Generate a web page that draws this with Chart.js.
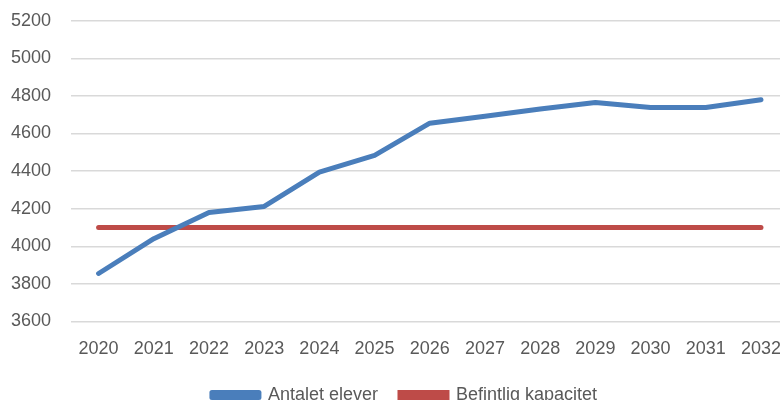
<!DOCTYPE html>
<html>
<head>
<meta charset="utf-8">
<script src="https://cdn.jsdelivr.net/npm/chart.js@4.4.0/dist/chart.umd.min.js"></script>
<style>
html,body{margin:0;padding:0;overflow:hidden;background:#fff;}
#wrap{position:absolute;left:0;top:-10px;width:798px;height:424px;}
</style>
</head>
<body>
<div id="wrap"><canvas id="c"></canvas></div>
<script>
const years = ['2020','2021','2022','2023','2024','2025','2026','2027','2028','2029','2030','2031','2032'];
const antaletElever = [3855, 4040, 4180, 4212, 4395, 4484, 4655, 4692, 4730, 4765, 4738, 4738, 4780];
const befintligKapacitet = [4100, 4100, 4100, 4100, 4100, 4100, 4100, 4100, 4100, 4100, 4100, 4100, 4100];
const seriesNames = ['Antalet elever', 'Befintlig kapacitet'];

const FONT = "'Liberation Sans', Arial, sans-serif";
new Chart(document.getElementById('c'), {
  type: 'line',
  data: {
    labels: years,
    datasets: [
      {label: seriesNames[0], data: antaletElever, borderColor: '#4A7EBB', backgroundColor: '#4A7EBB', borderWidth: 5, pointRadius: 0, tension: 0, borderCapStyle: 'round', borderJoinStyle: 'round'},
      {label: seriesNames[1], data: befintligKapacitet, borderColor: '#BE4B48', backgroundColor: '#BE4B48', borderWidth: 5, pointRadius: 0, tension: 0, borderCapStyle: 'round'}
    ]
  },
  options: {
    responsive: true,
    maintainAspectRatio: false,
    animation: false,
    layout: {padding: {left: 11, top: 0, right: 0, bottom: 0}},
    plugins: {
      tooltip: {enabled: false},
      legend: {
        position: 'bottom',
        labels: {boxWidth: 47, boxHeight: 5, padding: 22, color: '#595959', font: {family: FONT, size: 18}}
      }
    },
    scales: {
      x: {
        offset: true,
        grid: {display: false, drawTicks: false},
        border: {display: false},
        ticks: {color: '#595959', font: {family: FONT, size: 18}, padding: 17, maxRotation: 0, autoSkip: false},
        afterFit: (axis) => { axis.height -= 13; }
      },
      y: {
        min: 3600, max: 5200,
        grid: {color: '#D9D9D9', lineWidth: 1.5, drawTicks: false},
        border: {display: false},
        ticks: {stepSize: 200, color: '#595959', font: {family: FONT, size: 18}, padding: 20, callback: (v) => String(v)},
        afterFit: (axis) => { axis.width = 60; }
      }
    }
  }
});
</script>
</body>
</html>
